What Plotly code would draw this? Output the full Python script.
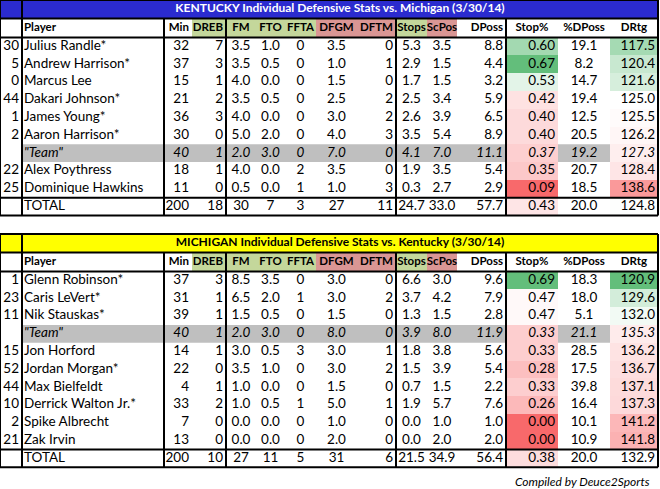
import plotly.graph_objects as go

# column headers shared by both tables
columns = ["", "Player", "Min", "DREB", "FM", "FTO", "FFTA", "DFGM", "DFTM",
           "Stops", "ScPos", "DPoss", "Stop%", "%DPoss", "DRtg"]

# Kentucky defense vs. Michigan (last row = TOTAL)
ky_num = ["30", "5", "0", "44", "1", "2", "", "22", "25", ""]
ky_player = ["Julius Randle*", "Andrew Harrison*", "Marcus Lee", "Dakari Johnson*",
             "James Young*", "Aaron Harrison*", '"Team"', "Alex Poythress",
             "Dominique Hawkins", "TOTAL"]
ky_min = [32, 37, 15, 21, 36, 30, 40, 18, 11, 200]
ky_dreb = [7, 3, 1, 2, 3, 0, 1, 1, 0, 18]
ky_fm = [3.5, 3.5, 4.0, 3.5, 4.0, 5.0, 2.0, 4.0, 0.5, 30]
ky_fto = [1.0, 0.5, 0.0, 0.5, 0.0, 2.0, 3.0, 0.0, 0.0, 7]
ky_ffta = [0, 0, 0, 0, 0, 0, 0, 2, 1, 3]
ky_dfgm = [3.5, 1.0, 1.5, 2.5, 3.0, 4.0, 7.0, 3.5, 1.0, 27]
ky_dftm = [0, 1, 0, 2, 2, 3, 0, 0, 3, 11]
ky_stops = [5.3, 2.9, 1.7, 2.5, 2.6, 3.5, 4.1, 1.9, 0.3, 24.7]
ky_scpos = [3.5, 1.5, 1.5, 3.4, 3.9, 5.4, 7.0, 3.5, 2.7, 33.0]
ky_dposs = [8.8, 4.4, 3.2, 5.9, 6.5, 8.9, 11.1, 5.4, 2.9, 57.7]
ky_stop_pct = [0.60, 0.67, 0.53, 0.42, 0.40, 0.40, 0.37, 0.35, 0.09, 0.43]
ky_pct_dposs = [19.1, 8.2, 14.7, 19.4, 12.5, 20.5, 19.2, 20.7, 18.5, 20.0]
ky_drtg = [117.5, 120.4, 121.6, 125.0, 125.5, 126.2, 127.3, 128.4, 138.6, 124.8]

# Michigan defense vs. Kentucky (last row = TOTAL)
mi_num = ["1", "23", "11", "", "15", "52", "44", "10", "2", "21", ""]
mi_player = ["Glenn Robinson*", "Caris LeVert*", "Nik Stauskas*", '"Team"',
             "Jon Horford", "Jordan Morgan*", "Max Bielfeldt", "Derrick Walton Jr.*",
             "Spike Albrecht", "Zak Irvin", "TOTAL"]
mi_min = [37, 31, 39, 40, 14, 22, 4, 33, 7, 13, 200]
mi_dreb = [3, 1, 1, 1, 1, 0, 1, 2, 0, 0, 10]
mi_fm = [8.5, 6.5, 1.5, 2.0, 3.0, 3.5, 1.0, 1.0, 0.0, 0.0, 27]
mi_fto = [3.5, 2.0, 0.5, 3.0, 0.5, 1.0, 0.0, 0.5, 0.0, 0.0, 11]
mi_ffta = [0, 1, 0, 0, 3, 0, 0, 1, 0, 0, 5]
mi_dfgm = [3.0, 3.0, 1.5, 8.0, 3.0, 3.0, 1.5, 5.0, 1.0, 2.0, 31]
mi_dftm = [0, 2, 0, 0, 1, 2, 0, 1, 0, 0, 6]
mi_stops = [6.6, 3.7, 1.3, 3.9, 1.8, 1.5, 0.7, 1.9, 0.0, 0.0, 21.5]
mi_scpos = [3.0, 4.2, 1.5, 8.0, 3.8, 3.9, 1.5, 5.7, 1.0, 2.0, 34.9]
mi_dposs = [9.6, 7.9, 2.8, 11.9, 5.6, 5.4, 2.2, 7.6, 1.0, 2.0, 56.4]
mi_stop_pct = [0.69, 0.47, 0.47, 0.33, 0.33, 0.28, 0.33, 0.26, 0.00, 0.00, 0.38]
mi_pct_dposs = [18.3, 18.0, 5.1, 21.1, 28.5, 17.5, 39.8, 16.4, 10.1, 10.9, 20.0]
mi_drtg = [120.9, 129.6, 132.0, 135.3, 136.2, 136.7, 137.1, 137.3, 141.2, 141.8, 132.9]

# number formats: decimals per column, total row uses its own
col_dec = [None, None, 0, 0, 1, 1, 0, 1, 0, 1, 1, 1, 2, 1, 1]
total_dec = [None, None, 0, 0, 0, 0, 0, 0, 0, 1, 1, 1, 2, 1, 1]

# ---- styling (pixel-like layout units) ----
FONT = "Lato"
FS = 13.5       # body
FS_HEAD = 11.5  # header row (bold)
FS_TITLE = 12   # title bar (bold)
edges = [0, 22, 164, 192, 226, 256, 285, 316, 357, 396, 427, 457, 506, 558, 610, 658]
val_align = ["right", "left", "right", "right", "center", "center", "center", "center",
             "right", "center", "center", "right", "right", "center", "right"]
head_align = ["right", "left", "right", "right", "center", "center", "center", "center",
              "right", "center", "center", "right", "center", "center", "center"]
GREEN_H = "#C4D79B"
RED_H = "#DA9694"
head_fill = [None, None, None, GREEN_H, GREEN_H, GREEN_H, GREEN_H, RED_H, RED_H,
             GREEN_H, RED_H, None, None, None, None]
thick_cols = [164, 226, 396, 506]
TITLE_H, HEAD_H, ROW_H = 18.5, 19, 17.8
XL_RED, XL_WHITE, XL_GREEN = "#F8696B", "#FFFFFF", "#63BE7B"

fig = go.Figure()
shapes = []


def text_x(j, align):
    lo, hi = edges[j], edges[j + 1]
    if align == "right":
        return hi - 3, "middle left"
    if align == "left":
        return lo + 2, "middle right"
    return (lo + hi) / 2, "middle center"


def fmt(v, d):
    return f"{v:.{d}f}"


def scale(lo, mid, hi, low_color, high_color):
    f = (mid - lo) / (hi - lo)
    return [[0, low_color], [f, XL_WHITE], [1, high_color]]


def add_table(top, title, title_bg, title_fg, num, player, stats, stop_rng, drtg_rng):
    n = len(player)
    head_top = top + TITLE_H
    body_top = head_top + HEAD_H
    rows = [body_top + i * ROW_H for i in range(n + 1)]
    bottom = rows[-1]
    centers = [(rows[i] + rows[i + 1]) / 2 for i in range(n)]
    team = player.index('"Team"')
    right = edges[-1]

    # fills
    shapes.append(dict(type="rect", x0=0, x1=right, y0=top, y1=head_top,
                       fillcolor=title_bg, line_width=0, layer="below"))
    for j, c in enumerate(head_fill):
        if c:
            shapes.append(dict(type="rect", x0=edges[j], x1=edges[j + 1], y0=head_top,
                               y1=body_top, fillcolor=c, line_width=0, layer="below"))
    shapes.append(dict(type="rect", x0=edges[1], x1=right, y0=rows[team], y1=rows[team + 1],
                       fillcolor="#BFBFBF", line_width=0, layer="below"))

    # conditional colour columns
    for j, vals, rng, lowc, highc in [(12, stats[12], stop_rng, XL_RED, XL_GREEN),
                                      (14, stats[14], drtg_rng, XL_GREEN, XL_RED)]:
        fig.add_trace(go.Heatmap(
            x=[edges[j], edges[j + 1]], y=rows, z=[[v] for v in vals],
            zmin=rng[0], zmax=rng[2], colorscale=scale(rng[0], rng[1], rng[2], lowc, highc),
            showscale=False, hoverinfo="skip"))

    # borders
    lines = [(0, top, right, top), (0, head_top, right, head_top),
             (0, body_top, right, body_top), (0, rows[-2], right, rows[-2]),
             (0, bottom, right, bottom), (0, top, 0, bottom), (right, top, right, bottom),
             (edges[1], top, edges[1], bottom)]
    lines += [(x, head_top, x, bottom) for x in thick_cols]
    for x0, y0, x1, y1 in lines:
        shapes.append(dict(type="line", x0=x0, y0=y0, x1=x1, y1=y1,
                           line=dict(color="black", width=2), layer="above"))

    # title
    fig.add_trace(go.Scatter(
        x=[(edges[1] + right) / 2], y=[(top + head_top) / 2], mode="text",
        text=[f"<b>{title}</b>"], textposition="middle center",
        textfont=dict(family=FONT, size=FS_TITLE, color=title_fg), hoverinfo="skip"))

    # header row
    hx, hp = zip(*[text_x(j, head_align[j]) for j in range(len(columns))])
    fig.add_trace(go.Scatter(
        x=list(hx), y=[(head_top + body_top) / 2] * len(columns), mode="text",
        text=[f"<b>{c}</b>" for c in columns], textposition=list(hp),
        textfont=dict(family=FONT, size=FS_HEAD, color="black"), hoverinfo="skip"))

    # body
    for j in range(len(columns)):
        if j == 0:
            txt = list(num)
        elif j == 1:
            txt = list(player)
        else:
            txt = [fmt(v, total_dec[j] if i == n - 1 else col_dec[j])
                   for i, v in enumerate(stats[j])]
        txt[team] = f"<i>{txt[team]}</i>" if txt[team] else ""
        x, pos = text_x(j, val_align[j])
        fig.add_trace(go.Scatter(
            x=[x] * n, y=centers, mode="text", text=txt, textposition=pos,
            textfont=dict(family=FONT, size=FS, color="black"), hoverinfo="skip"))


add_table(0, "KENTUCKY Individual Defensive Stats vs. Michigan (3/30/14)", "#2B2BCF", "white",
          ky_num, ky_player,
          [None, None, ky_min, ky_dreb, ky_fm, ky_fto, ky_ffta, ky_dfgm, ky_dftm,
           ky_stops, ky_scpos, ky_dposs, ky_stop_pct, ky_pct_dposs, ky_drtg],
          (0.09, 0.5, 0.67), (112, 125, 145))

add_table(234, "MICHIGAN Individual Defensive Stats vs. Kentucky (3/30/14)", "#FFFF00", "black",
          mi_num, mi_player,
          [None, None, mi_min, mi_dreb, mi_fm, mi_fto, mi_ffta, mi_dfgm, mi_dftm,
           mi_stops, mi_scpos, mi_dposs, mi_stop_pct, mi_pct_dposs, mi_drtg],
          (0.0, 0.49, 0.69), (120.9, 133, 150))

fig.update_layout(
    width=660, height=489, margin=dict(l=0, r=0, t=0, b=0),
    paper_bgcolor="white", plot_bgcolor="white", showlegend=False,
    shapes=shapes,
    xaxis=dict(range=[0, 660], visible=False, fixedrange=True),
    yaxis=dict(range=[489, 0], visible=False, fixedrange=True),
    annotations=[dict(x=652, y=481, xref="x", yref="y", xanchor="right", yanchor="middle",
                      text="<i>Compiled by Deuce2Sports</i>", showarrow=False,
                      font=dict(family=FONT, size=12, color="black"))],
)

# page body margin would shift the 660x489 figure out of the window
fig.write_html("out.html", config={"displayModeBar": False},
               post_script="document.body.style.margin='0px';")
